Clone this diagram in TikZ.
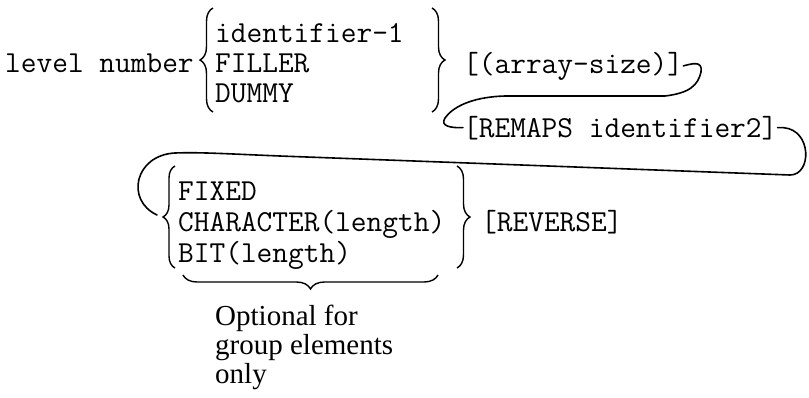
\documentclass[tikz,border=0pt]{standalone}
\usepackage{fontspec}
\setmainfont{Liberation Serif}
\usetikzlibrary{decorations.pathreplacing,calc}
\begin{document}
\begin{tikzpicture}[x=1pt,y=1pt,
  tt/.style={font=\ttfamily\fontsize{30.5}{31}\selectfont, inner sep=0pt, anchor=base west},
  note/.style={font=\fontsize{29}{30}\selectfont, inner sep=0pt, anchor=base west},
  bracestyle/.style={decorate, decoration={brace, amplitude=13pt}, line width=1.4pt},
  conn/.style={line width=1.6pt, line cap=round, line join=round}]
\useasboundingbox (0,0) rectangle (809,-397);
% texts
\node[tt] (lvl) at (5,-72) {level number};
\node[tt] (id1) at (215,-42) {identifier-1};
\node[tt] (fil) at (215,-72) {FILLER};
\node[tt] (dum) at (215,-102) {DUMMY};
\node[tt] (arr) at (463,-73) {[(array-size)]};
\node[tt] (rem) at (463,-137) {[REMAPS identifier2]};
\node[tt] (fix) at (178,-200) {FIXED};
\node[tt] (chr) at (178,-231) {CHARACTER(length)};
\node[tt] (bit) at (178,-262) {BIT(length)};
\node[tt] (rev) at (481,-231) {[REVERSE]};
\node[note] (opt1) at (215,-325) {Optional for};
\node[note] (opt2) at (215,-354) {group elements};
\node[note] (opt3) at (215,-383) {only};
% braces
\draw[bracestyle] (213,-112) -- (213,-8);
\draw[bracestyle] (432,-8) -- (432,-112);
\draw[bracestyle, decoration={amplitude=12pt}] (175,-268) -- (175,-166);
\draw[bracestyle] (457,-166) -- (457,-268);
\draw[bracestyle, decoration={amplitude=14pt}] (438,-275) -- (183,-275);
\coordinate (tip2) at (157,-215);
% connectors
\draw[conn] (arr.east) .. controls +(8,2) and (703,-60) .. (701,-72)
  .. controls (698,-85) and (690,-93) .. (665,-96) -- (505,-96)
  .. controls (470,-97) and (452,-108) .. (445,-118)
  .. controls (440,-126) and (450,-128) .. (rem.west);
\draw[conn] (rem.east) -- ++(6,0) .. controls (812,-130) and (812,-175) .. (790,-175)
  -- (280,-156) .. controls (230,-154) and (200,-152) .. (175,-153)
  .. controls (135,-155) and (125,-200) .. (tip2);
\end{tikzpicture}
\end{document}
